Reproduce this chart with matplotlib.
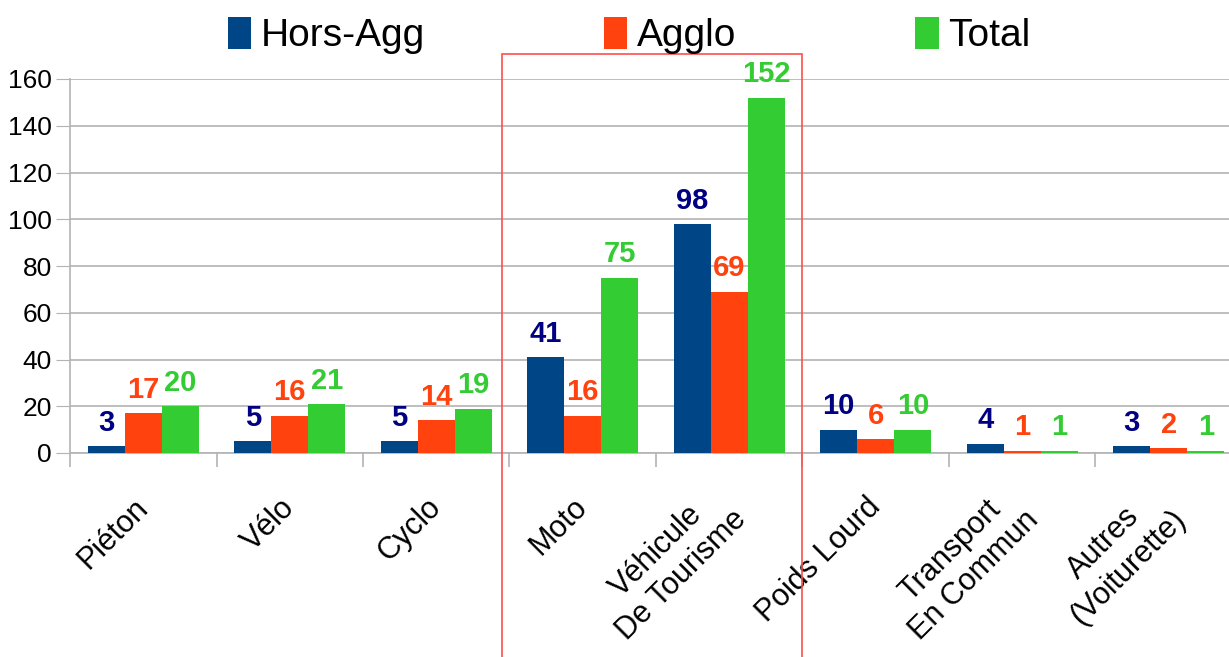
import numpy as np
import matplotlib
matplotlib.use("Agg")
import matplotlib.pyplot as plt
from matplotlib.patches import Rectangle

categories = ["Piéton", "Vélo", "Cyclo", "Moto", "Véhicule\nDe Tourisme",
              "Poids Lourd", "Transport\nEn Commun", "Autres\n(Voiturette)"]
hors_agg = [3, 5, 5, 41, 98, 10, 4, 3]
agglo = [17, 16, 14, 16, 69, 6, 1, 2]
total = [20, 21, 19, 75, 152, 10, 1, 1]
series_names = ["Hors-Agg", "Agglo", "Total"]
yticks = [0, 20, 40, 60, 80, 100, 120, 140, 160]

bar_colors = ["#004586", "#ff420e", "#33cc33"]
label_colors = ["#000080", "#ff420e", "#33cc33"]

plt.rcParams['font.family'] = ['Liberation Sans', 'DejaVu Sans']

fig = plt.figure(figsize=(12.29, 6.57), dpi=100)
ax = fig.add_axes([70 / 1229, 204 / 657, 1172 / 1229, 374 / 657])

x = np.arange(len(categories))
w = 0.253
series = [hors_agg, agglo, total]
handles = []
for i, vals in enumerate(series):
    pos = x + (i - 1) * w
    b = ax.bar(pos, vals, width=w, color=bar_colors[i], label=series_names[i], zorder=3)
    handles.append(b)
    for p, v in zip(pos, vals):
        ax.text(p, v + 4, str(v), ha='center', va='bottom', fontsize=21,
                fontweight='bold', color=label_colors[i], zorder=4)

ax.set_xlim(-0.5, len(categories) - 0.5)
ax.set_ylim(0, 160)
ax.set_yticks(yticks)
ax.tick_params(axis='y', labelsize=19, length=10, color='#b3b3b3', pad=3)
ax.yaxis.grid(True, color='#b3b3b3', linewidth=1.2, zorder=0)

ax.set_xticks(x)
ax.set_xticklabels(categories, rotation=45, ha='right', va='center',
                   rotation_mode='anchor', multialignment='center', fontsize=22)
ax.tick_params(axis='x', which='major', length=0, pad=36)
ax.set_xticks(np.arange(-0.5, len(categories), 1.0), minor=True)
ax.tick_params(axis='x', which='minor', length=10, color='#b3b3b3', width=1.2)

for s in ['top', 'right']:
    ax.spines[s].set_visible(False)
for s in ['left', 'bottom']:
    ax.spines[s].set_color('#b3b3b3')
    ax.spines[s].set_linewidth(1.2)

fig.legend(handles=handles, labels=series_names, loc='upper center',
           bbox_to_anchor=(0.512, 1.028), ncol=3, frameon=False, fontsize=28,
           handlelength=0.6, handleheight=0.9, handletextpad=0.25, columnspacing=4.6)

fig.add_artist(Rectangle((502 / 1229, -0.05), 300 / 1229, (657 - 54) / 657 + 0.05,
                         transform=fig.transFigure, fill=False,
                         edgecolor='#ff4d4d', linewidth=1.2))

fig.savefig("out.png", dpi=100)
